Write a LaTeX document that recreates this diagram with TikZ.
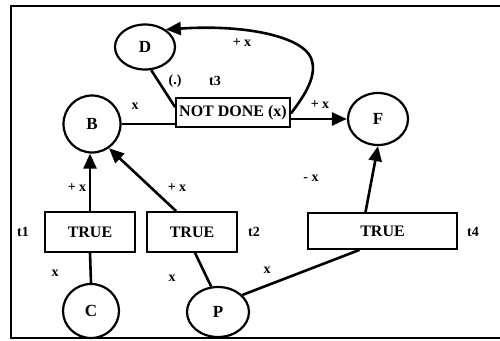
\documentclass[tikz,border=0pt]{standalone}
\usepackage{fontspec}
\setmainfont{Liberation Serif}
\usetikzlibrary{arrows.meta,shapes.geometric}
\begin{document}
\begin{tikzpicture}[x=1pt,y=-1pt,
  place/.style={draw,ellipse,line width=2.2pt,inner sep=0pt,font=\fontsize{17}{17}\selectfont\bfseries},
  trans/.style={draw,rectangle,line width=1.8pt,inner sep=0pt,font=\fontsize{16}{16}\selectfont\bfseries},
  conn/.style={line width=2.6pt},
  arr/.style={conn,-{Triangle[length=15pt,width=13pt]}},
  lab/.style={font=\fontsize{14}{14}\selectfont\bfseries,inner sep=0pt}]
\useasboundingbox (0,0) rectangle (500,340);
% frame
\draw[line width=2pt] (502,6) -- (11,6) -- (11,338) -- (502,338);
% places
\node[place,minimum width=60pt,minimum height=45pt] (D) at (145,47) {D};
\node[place,minimum width=57pt,minimum height=57pt] (B) at (92,124) {B};
\node[place,minimum width=60pt,minimum height=52pt] (F) at (378,119) {F};
\node[place,minimum width=56pt,minimum height=54pt] (C) at (91,311) {C};
\node[place,minimum width=62pt,minimum height=50pt] (P) at (218,312) {P};
% transitions
\node[trans,minimum width=114pt,minimum height=29pt] (t3) at (233,112.5) {NOT DONE (x)};
\node[trans,minimum width=90pt,minimum height=40pt] (t1) at (90,232) {TRUE};
\node[trans,minimum width=90pt,minimum height=40pt] (t2) at (192,232) {TRUE};
\node[trans,minimum width=149pt,minimum height=36pt] (t4) at (382.5,231) {TRUE};
% connectors
\draw[arr] (t1.north) -- (t1.north |- B.south);
\draw[arr] ([xshift=30pt]t2.north west) -- (B.-55);
\draw[conn] (C.north) -- (t1.south);
\draw[conn] (P.105) -- ([xshift=3pt]t2.south);
\draw[conn] (P.35) -- ([xshift=-23pt]t4.south);
\draw[arr] ([xshift=-17pt]t4.north) -- (F.south);
\draw[arr] (t3.east |- F.west) -- (F.west);
\draw[conn] (B.east) -- (t3.west |- B.east);
\draw[conn] (D.-75) -- ([yshift=-10pt]t3.north west);
\draw[arr] ([yshift=-1pt]t3.east) .. controls (305,95) and (318,75) .. (311,58)
  .. controls (303,38) and (250,24) .. (D.40);
% labels
\node[lab] (l1) at (242,43) {+ x};
\node[lab] (l2) at (175,81) {(.)};
\node[lab] (l3) at (215,81) {t3};
\node[lab] (l4) at (135,106) {x};
\node[lab] (l5) at (320,105) {+ x};
\node[lab] (l6) at (77,188) {+ x};
\node[lab] (l7) at (177,188) {+ x};
\node[lab] (l8) at (23,232) {t1};
\node[lab] (l9) at (254,232) {t2};
\node[lab] (l10) at (55,273) {x};
\node[lab] (l11) at (172,278) {x};
\node[lab] (l12) at (311,178) {- x};
\node[lab] (l13) at (267,270) {x};
\node[lab] (l14) at (473,232) {t4};
\end{tikzpicture}
\end{document}
